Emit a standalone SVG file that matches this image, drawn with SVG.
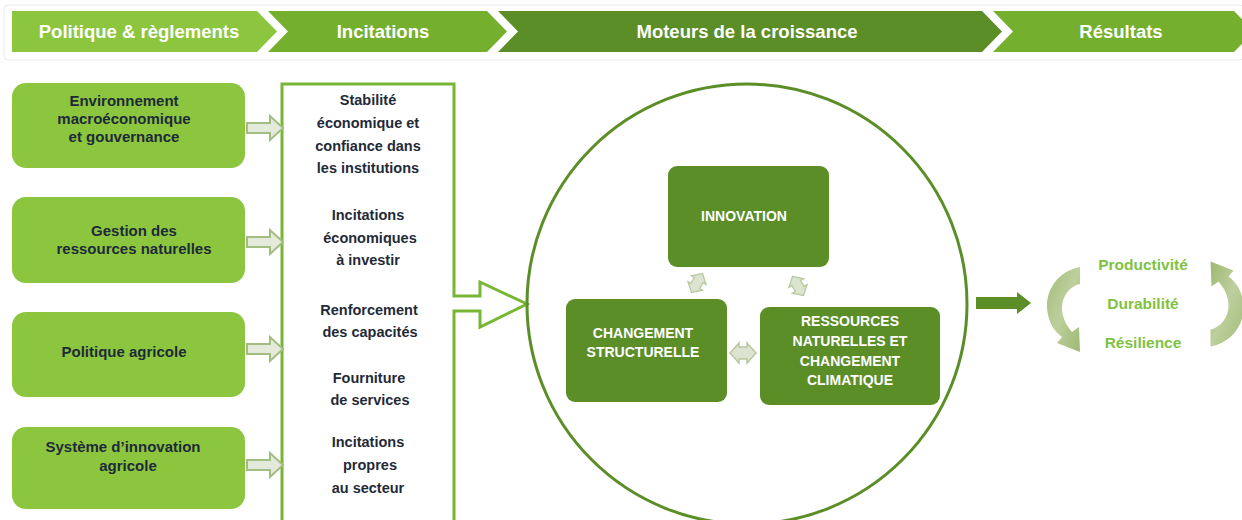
<svg xmlns="http://www.w3.org/2000/svg" width="1242" height="520" viewBox="0 0 1242 520">
  <style>
    .hdr { font-family: "Liberation Sans", Arial, sans-serif; font-weight: bold; font-size: 18.5px; fill: #ffffff; text-anchor: middle; }
    .lbox { fill: #8cc63f; }
    .ltxt { font-family: "Liberation Sans", Arial, sans-serif; font-weight: bold; font-size: 15px; fill: #1f2a38; text-anchor: middle; }
    .ctxt { font-family: "Liberation Sans", Arial, sans-serif; font-weight: bold; font-size: 14.5px; fill: #1f2a38; text-anchor: middle; }
    .dbox { fill: #5b8e27; }
    .dtxt { font-family: "Liberation Sans", Arial, sans-serif; font-weight: bold; font-size: 14px; fill: #ffffff; text-anchor: middle; }
    .rtxt { font-family: "Liberation Sans", Arial, sans-serif; font-weight: bold; font-size: 15.5px; fill: #7fc241; text-anchor: middle; }
    .feed { fill: #e4eadb; stroke: #a3bc7f; stroke-width: 2; stroke-linejoin: miter; }
    .cyc { fill: #dbe4ce; stroke: #b7c8a0; stroke-width: 1.5; }
  </style>
  <defs>
    <linearGradient id="curl" x1="0" y1="0" x2="1" y2="1">
      <stop offset="0" stop-color="#98b46a"/>
      <stop offset="0.5" stop-color="#b6ca92"/>
      <stop offset="1" stop-color="#93b063"/>
    </linearGradient>
    <!-- small double-headed arrow used between the three growth drivers -->
    <polygon id="dbl" points="-13,0 -4,-10 -4,-6 4,-6 4,-10 13,0 4,10 4,6 -4,6 -4,10"/>
    <!-- light block arrow feeding the incentives column -->
    <polygon id="feedArrow" points="0,-5 23,-5 23,-12 36,0 23,12 23,5 0,5"/>
    <!-- curling arrow around the results -->
    <path id="curlArrow" d="M1080 267 C1058 271 1046 290 1047 308 C1048 322 1054 331 1062 337 L1057 343 L1080 352 L1079 327 L1072 332 C1066 325 1062 317 1062 308 C1062 296 1070 286 1080 284 Z"/>
  </defs>

  <!-- header band -->
  <g id="header">
    <rect x="4" y="5" width="1240" height="55" rx="4" fill="#ffffff" stroke="#ebebeb" stroke-width="1"/>
    <polygon points="12,11 257,11 277,31.5 257,52 12,52" fill="#8cc63f"/>
    <polygon points="268,11 487,11 507,31.5 487,52 268,52 288,31.5" fill="#74b02e"/>
    <polygon points="498,11 982,11 1002,31.5 982,52 498,52 518,31.5" fill="#5b8e27"/>
    <polygon points="993,11 1234,11 1254,31.5 1234,52 993,52 1013,31.5" fill="#74b02e"/>
    <text class="hdr" x="139" y="38">Politique &amp; règlements</text>
    <text class="hdr" x="383" y="38">Incitations</text>
    <text class="hdr" x="747" y="38">Moteurs de la croissance</text>
    <text class="hdr" x="1121" y="38">Résultats</text>
  </g>

  <!-- policy boxes -->
  <g id="policy-macro">
    <rect class="lbox" x="12" y="83" width="233" height="85" rx="14"/>
    <text class="ltxt" x="124" y="106">Environnement</text>
    <text class="ltxt" x="124" y="124">macroéconomique</text>
    <text class="ltxt" x="124" y="142">et gouvernance</text>
  </g>
  <g id="policy-resources">
    <rect class="lbox" x="12" y="197" width="233" height="86" rx="14"/>
    <text class="ltxt" x="134" y="236">Gestion des</text>
    <text class="ltxt" x="134" y="254">ressources naturelles</text>
  </g>
  <g id="policy-agri">
    <rect class="lbox" x="12" y="312" width="233" height="85" rx="14"/>
    <text class="ltxt" x="124" y="357">Politique agricole</text>
  </g>
  <g id="policy-innovation">
    <rect class="lbox" x="12" y="427" width="233" height="82" rx="14"/>
    <text class="ltxt" x="123" y="452">Système d’innovation</text>
    <text class="ltxt" x="128" y="471">agricole</text>
  </g>

  <!-- incentives column with its outgoing arrow into the growth circle -->
  <g id="incentives">
    <path d="M282 522 L282 84 L454 84 L454 296 L480 296 L480 282 L527 304 L480 327 L480 311 L454 311 L454 522" fill="#ffffff" stroke="#78b636" stroke-width="3" stroke-linejoin="miter"/>
    <text class="ctxt" x="368" y="105">Stabilité</text>
    <text class="ctxt" x="368" y="128">économique et</text>
    <text class="ctxt" x="368" y="151">confiance dans</text>
    <text class="ctxt" x="368" y="173">les institutions</text>
    <text class="ctxt" x="368" y="220">Incitations</text>
    <text class="ctxt" x="370" y="243">économiques</text>
    <text class="ctxt" x="368" y="265">à investir</text>
    <text class="ctxt" x="369" y="315">Renforcement</text>
    <text class="ctxt" x="370" y="337">des capacités</text>
    <text class="ctxt" x="369" y="383">Fourniture</text>
    <text class="ctxt" x="370" y="405">de services</text>
    <text class="ctxt" x="368" y="447">Incitations</text>
    <text class="ctxt" x="370" y="470">propres</text>
    <text class="ctxt" x="368" y="493">au secteur</text>
  </g>

  <!-- growth drivers -->
  <g id="growth-circle">
    <circle cx="747" cy="304" r="220" fill="none" stroke="#5b8e27" stroke-width="3"/>
  </g>
  <g id="driver-innovation">
    <rect class="dbox" x="668" y="166" width="161" height="101" rx="9"/>
    <text class="dtxt" x="744" y="221">INNOVATION</text>
  </g>
  <g id="driver-structural">
    <rect class="dbox" x="566" y="299" width="161" height="103" rx="9"/>
    <text class="dtxt" x="643" y="338">CHANGEMENT</text>
    <text class="dtxt" x="643" y="357">STRUCTURELLE</text>
  </g>
  <g id="driver-resources">
    <rect class="dbox" x="760" y="307" width="180" height="98" rx="9"/>
    <text class="dtxt" x="850" y="326">RESSOURCES</text>
    <text class="dtxt" x="850" y="346">NATURELLES ET</text>
    <text class="dtxt" x="850" y="366">CHANGEMENT</text>
    <text class="dtxt" x="850" y="385">CLIMATIQUE</text>
  </g>

  <!-- results -->
  <g id="results">
    <use href="#curlArrow" fill="url(#curl)" opacity="0.9"/>
    <use href="#curlArrow" fill="url(#curl)" opacity="0.9" transform="translate(1227 304) rotate(180) translate(-1063.5 -309.5)"/>
    <text class="rtxt" x="1143" y="270">Productivité</text>
    <text class="rtxt" x="1143" y="309">Durabilité</text>
    <text class="rtxt" x="1143" y="348">Résilience</text>
  </g>

  <!-- connectors -->
  <g id="connectors">
    <use href="#feedArrow" class="feed" x="247" y="128"/>
    <use href="#feedArrow" class="feed" x="247" y="242"/>
    <use href="#feedArrow" class="feed" x="247" y="349"/>
    <use href="#feedArrow" class="feed" x="247" y="465"/>
    <use href="#dbl" class="cyc" transform="translate(697 283) rotate(-60) scale(0.85)"/>
    <use href="#dbl" class="cyc" transform="translate(798 286) rotate(60) scale(0.85)"/>
    <use href="#dbl" class="cyc" transform="translate(743 353)"/>
    <polygon points="976,297 1017,297 1017,292 1031,303 1017,314 1017,309 976,309" fill="#5b8e27"/>
  </g>
</svg>
